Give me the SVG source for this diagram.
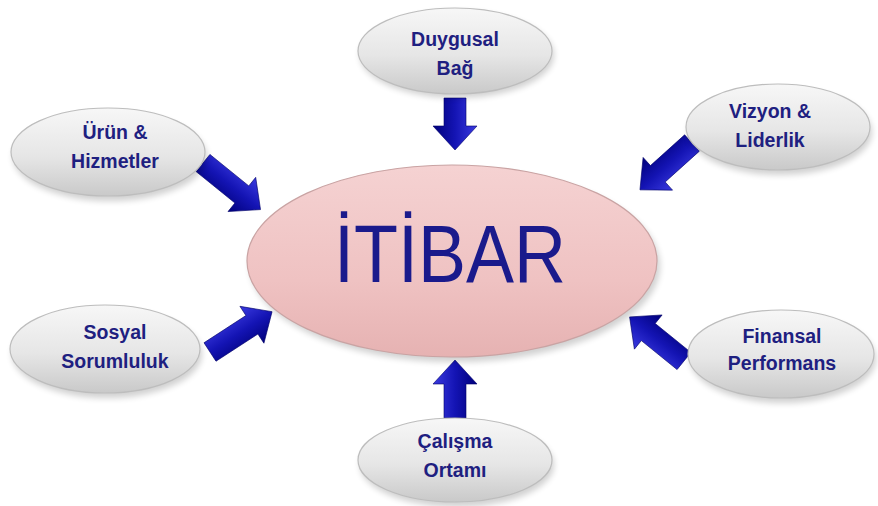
<svg xmlns="http://www.w3.org/2000/svg" width="878" height="506" viewBox="0 0 878 506">
<defs>
<style>
.lbl{font-family:"Liberation Sans",Arial,sans-serif;font-weight:bold;font-size:19.5px;fill:#1e2080;text-anchor:middle}
.small{fill:url(#greyG);stroke:#bdbdbd;stroke-width:1.2}
.shadow{fill:#000;opacity:0.18;filter:url(#blur)}
.arrow{fill:url(#blueG);stroke:#00006a;stroke-width:0.6}
</style>
<linearGradient id="greyG" x1="0" y1="0" x2="0" y2="1">
<stop offset="0" stop-color="#f7f7f7"/>
<stop offset="0.55" stop-color="#e6e6e6"/>
<stop offset="1" stop-color="#c9c9c9"/>
</linearGradient>
<linearGradient id="pinkG" x1="0" y1="0" x2="0" y2="1">
<stop offset="0" stop-color="#f5d2d2"/>
<stop offset="0.6" stop-color="#efc2c2"/>
<stop offset="1" stop-color="#e6b2b2"/>
</linearGradient>
<linearGradient id="blueG" x1="0" y1="0" x2="0" y2="1">
<stop offset="0" stop-color="#3a3ae0"/>
<stop offset="0.5" stop-color="#1414b4"/>
<stop offset="1" stop-color="#00007a"/>
</linearGradient>
<filter id="blur" x="-20%" y="-20%" width="140%" height="140%"><feGaussianBlur stdDeviation="3"/></filter>
</defs>
<rect width="878" height="506" fill="#ffffff"/>

<g id="connectors">
<path class="arrow" transform="translate(455,98) rotate(90)" d="M0,-11 L28,-11 L28,-22 L52,0 L28,22 L28,11 L0,11 Z"/>
<path class="arrow" transform="translate(455,418) rotate(-90)" d="M0,-11 L34,-11 L34,-22 L58,0 L34,22 L34,11 L0,11 Z"/>
<path class="arrow" transform="translate(203,163) rotate(39)" d="M0,-11 L50,-11 L50,-22 L74,0 L50,22 L50,11 L0,11 Z"/>
<path class="arrow" transform="translate(692,143) rotate(138)" d="M0,-11 L46,-11 L46,-22 L70,0 L46,22 L46,11 L0,11 Z"/>
<path class="arrow" transform="translate(210,352) rotate(-33)" d="M0,-11 L50,-11 L50,-22 L74,0 L50,22 L50,11 L0,11 Z"/>
<path class="arrow" transform="translate(684,361) rotate(-141)" d="M0,-11 L46,-11 L46,-22 L70,0 L46,22 L46,11 L0,11 Z"/>
</g>

<g id="itibar">
<ellipse class="shadow" cx="455" cy="266" rx="205" ry="96"/>
<ellipse cx="452" cy="261" rx="205" ry="96" fill="url(#pinkG)" stroke="#c9a3a3" stroke-width="1.2"/>
<text x="450" y="282" font-family="'Liberation Sans',Arial,sans-serif" font-size="82" fill="#1a1a8c" text-anchor="middle" textLength="232" lengthAdjust="spacingAndGlyphs">İTİBAR</text>
</g>

<g id="duygusal-bag">
<ellipse class="shadow" cx="457" cy="55" rx="97" ry="43"/>
<ellipse class="small" cx="455" cy="51" rx="97" ry="43"/>
<text class="lbl" x="455" y="46">Duygusal</text>
<text class="lbl" x="455" y="75">Bağ</text>
</g>

<g id="urun-hizmetler">
<ellipse class="shadow" cx="110" cy="157" rx="97" ry="44"/>
<ellipse class="small" cx="108" cy="152" rx="97" ry="44"/>
<text class="lbl" x="115" y="139">Ürün &amp;</text>
<text class="lbl" x="115" y="168">Hizmetler</text>
</g>

<g id="vizyon-liderlik">
<ellipse class="shadow" cx="780" cy="132" rx="92" ry="43"/>
<ellipse class="small" cx="778" cy="127" rx="92" ry="43"/>
<text class="lbl" x="770" y="118">Vizyon &amp;</text>
<text class="lbl" x="770" y="147">Liderlik</text>
</g>

<g id="sosyal-sorumluluk">
<ellipse class="shadow" cx="107" cy="354" rx="95" ry="44"/>
<ellipse class="small" cx="105" cy="349" rx="95" ry="44"/>
<text class="lbl" x="115" y="339">Sosyal</text>
<text class="lbl" x="115" y="368">Sorumluluk</text>
</g>

<g id="finansal-performans">
<ellipse class="shadow" cx="783" cy="359" rx="93" ry="44"/>
<ellipse class="small" cx="781" cy="354" rx="93" ry="44"/>
<text class="lbl" x="782" y="343">Finansal</text>
<text class="lbl" x="782" y="370">Performans</text>
</g>

<g id="calisma-ortami">
<ellipse class="shadow" cx="457" cy="465" rx="97" ry="42"/>
<ellipse class="small" cx="455" cy="460" rx="97" ry="42"/>
<text class="lbl" x="455" y="448">Çalışma</text>
<text class="lbl" x="455" y="477">Ortamı</text>
</g>
</svg>
